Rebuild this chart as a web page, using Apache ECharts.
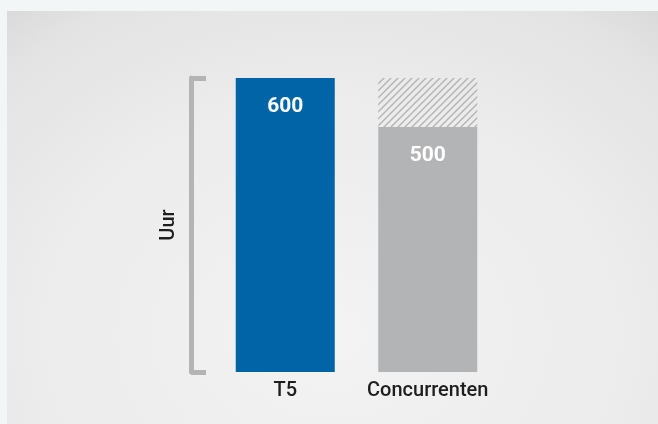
<!DOCTYPE html>
<html>
<head>
<meta charset="utf-8">
<script src="https://cdn.jsdelivr.net/npm/echarts@6/dist/echarts.min.js"></script>
<style>
html, body { margin: 0; padding: 0; background: #f2f6f7; }
#panel {
    position: absolute; left: 7px; top: 11px; width: 651px; height: 413px;
    background: radial-gradient(ellipse 90% 115% at 50% 78%, #f3f3f3 0%, #ececec 50%, #e3e3e3 78%, #cfcece 100%);
}
#chart { position: absolute; left: 0; top: 0; width: 658px; height: 424px; }
</style>
</head>
<body>
<div id="panel"></div>
<div id="chart"></div>
<script>
var categories = ['T5', 'Concurrenten'];
var hours = [600, 500];
var gap = [0, 100];
var barColors = ['#0064a6', '#b3b4b6'];

// hatch pattern for the missing part
var hatch = document.createElement('canvas');
hatch.width = 7;
hatch.height = 7;
var ctx = hatch.getContext('2d');
ctx.strokeStyle = '#b3b3b3';
ctx.lineWidth = 1.4;
ctx.beginPath();
ctx.moveTo(0, 7); ctx.lineTo(7, 0);
ctx.moveTo(-2, 2); ctx.lineTo(2, -2);
ctx.moveTo(5, 9); ctx.lineTo(9, 5);
ctx.stroke();

var myChart = echarts.init(document.getElementById('chart'));

var option = {
    backgroundColor: 'transparent',
    animation: false,
    grid: {
        left: 214,
        right: 159,
        top: 78,
        bottom: 52
    },
    xAxis: {
        type: 'category',
        data: categories,
        axisLine: { show: false },
        axisTick: { show: false },
        axisLabel: {
            interval: 0,
            hideOverlap: false,
            fontSize: 20,
            fontWeight: 500,
            color: '#1e1e1e',
            fontFamily: 'Roboto',
            margin: 9
        }
    },
    yAxis: {
        type: 'value',
        min: 0,
        max: 600,
        interval: 600,
        offset: 23,
        name: 'Uur',
        nameLocation: 'middle',
        nameRotate: 90,
        nameGap: 12,
        nameTextStyle: { fontSize: 20, fontWeight: 500, color: '#1e1e1e', fontFamily: 'Roboto' },
        axisLine: { show: true, lineStyle: { color: '#b4b4b4', width: 5 } },
        axisTick: { show: true, inside: true, length: 15, lineStyle: { color: '#b4b4b4', width: 5 } },
        axisLabel: { show: false },
        splitLine: { show: false }
    },
    series: [
        {
            type: 'bar',
            stack: 'total',
            barWidth: 99,
            data: hours.map(function (v, i) {
                return { value: v, itemStyle: { color: barColors[i] } };
            }),
            label: {
                show: true,
                position: 'insideTop',
                distance: 18,
                color: '#ffffff',
                fontSize: 21,
                fontWeight: 'bold',
                fontFamily: 'Roboto'
            }
        },
        {
            type: 'bar',
            stack: 'total',
            barWidth: 99,
            data: gap,
            itemStyle: { color: { image: hatch, repeat: 'repeat' } }
        }
    ]
};

myChart.setOption(option);
</script>
</body>
</html>
